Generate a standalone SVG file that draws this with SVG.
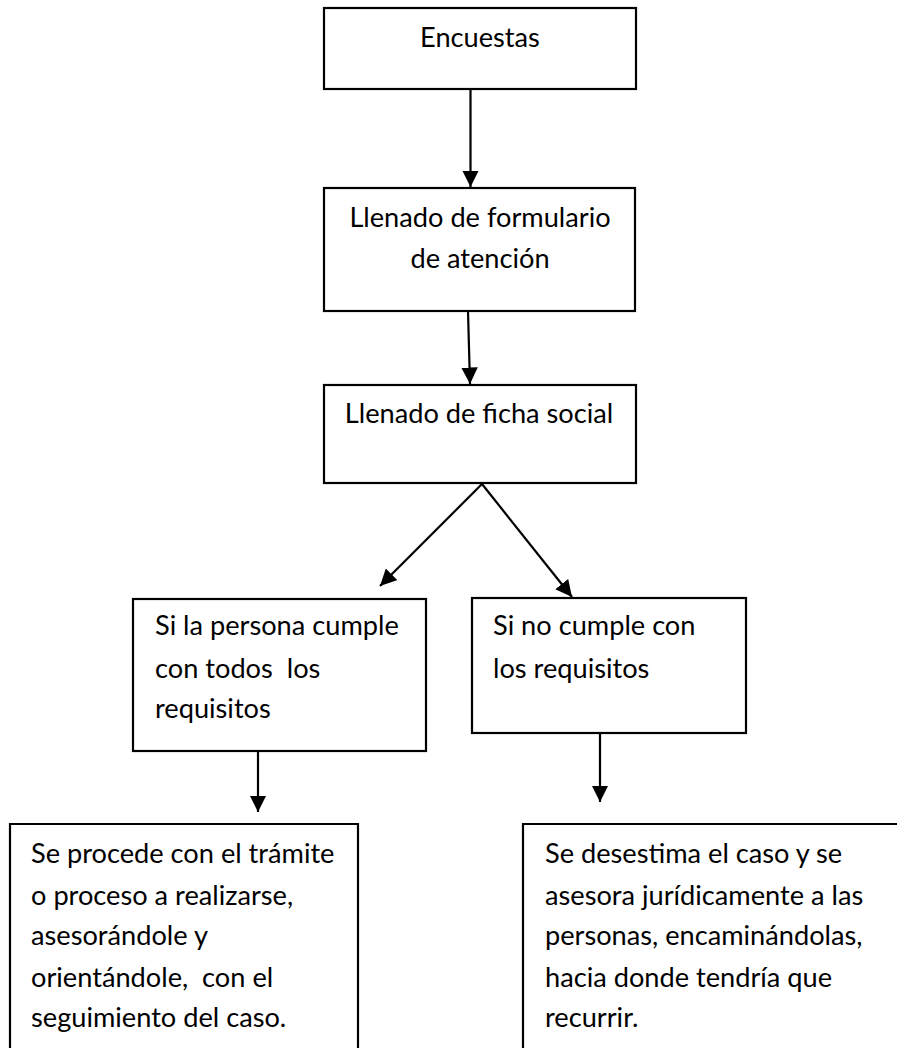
<svg xmlns="http://www.w3.org/2000/svg" width="897" height="1048" viewBox="0 0 897 1048">
<style>
.box{fill:#fff;stroke:#000;stroke-width:2.2}
.t{font-family:Lato,"Open Sans","Liberation Sans",sans-serif;font-size:27.2px;fill:#000}
.c{text-anchor:middle}
.ln{stroke:#000;stroke-width:2.2;fill:none}
</style>
<defs>
<marker id="ah" viewBox="0 0 10 10" refX="10" refY="5" markerWidth="7.5" markerHeight="7.5" markerUnits="strokeWidth" orient="auto">
<path d="M0,0 L10,5 L0,10 z" fill="#000"/>
</marker>
</defs>
<rect width="897" height="1048" fill="#fff"/>
<g id="n1"><rect class="box" x="324" y="8" width="312" height="81"/><text class="t c" x="480" y="47">Encuestas</text></g>
<g id="n2"><rect class="box" x="324" y="188" width="311" height="123"/><text class="t c" x="480" y="227">Llenado de formulario</text><text class="t c" x="480" y="268">de atención</text></g>
<g id="n3"><rect class="box" x="324" y="385" width="312" height="98"/><text class="t c" x="479" y="423">Llenado de ficha social</text></g>
<g id="n4"><rect class="box" x="133" y="599" width="293" height="152"/><text class="t" x="155" y="635">Si la persona cumple</text><text class="t" x="155" y="678" xml:space="preserve">con todos  los</text><text class="t" x="155" y="718">requisitos</text></g>
<g id="n5"><rect class="box" x="472" y="598" width="274" height="135"/><text class="t" x="493" y="635">Si no cumple con</text><text class="t" x="493" y="678">los requisitos</text></g>
<g id="n6"><path class="ln" d="M10,1050 V824 H358 V1050"/><text class="t" x="31" y="863">Se procede con el trámite</text><text class="t" x="31" y="905">o proceso a realizarse,</text><text class="t" x="31" y="945">asesorándole y</text><text class="t" x="31" y="987" xml:space="preserve">orientándole,  con el</text><text class="t" x="31" y="1027">seguimiento del caso.</text></g>
<g id="n7"><path class="ln" d="M523,1050 V824 H897"/><text class="t" x="545" y="863">Se desestima el caso y se</text><text class="t" x="545" y="905">asesora jurídicamente a las</text><text class="t" x="545" y="945">personas, encaminándolas,</text><text class="t" x="545" y="987">hacia donde tendría que</text><text class="t" x="545" y="1027">recurrir.</text></g>
<g id="connectors">
<line class="ln" x1="470.5" y1="89" x2="470.5" y2="187" marker-end="url(#ah)"/>
<line class="ln" x1="468" y1="311" x2="470" y2="384" marker-end="url(#ah)"/>
<line class="ln" x1="482" y1="484" x2="380" y2="586" marker-end="url(#ah)"/>
<line class="ln" x1="482" y1="484" x2="572" y2="597" marker-end="url(#ah)"/>
<line class="ln" x1="258" y1="751" x2="258" y2="812" marker-end="url(#ah)"/>
<line class="ln" x1="600" y1="733" x2="600" y2="802" marker-end="url(#ah)"/>
</g>
</svg>
